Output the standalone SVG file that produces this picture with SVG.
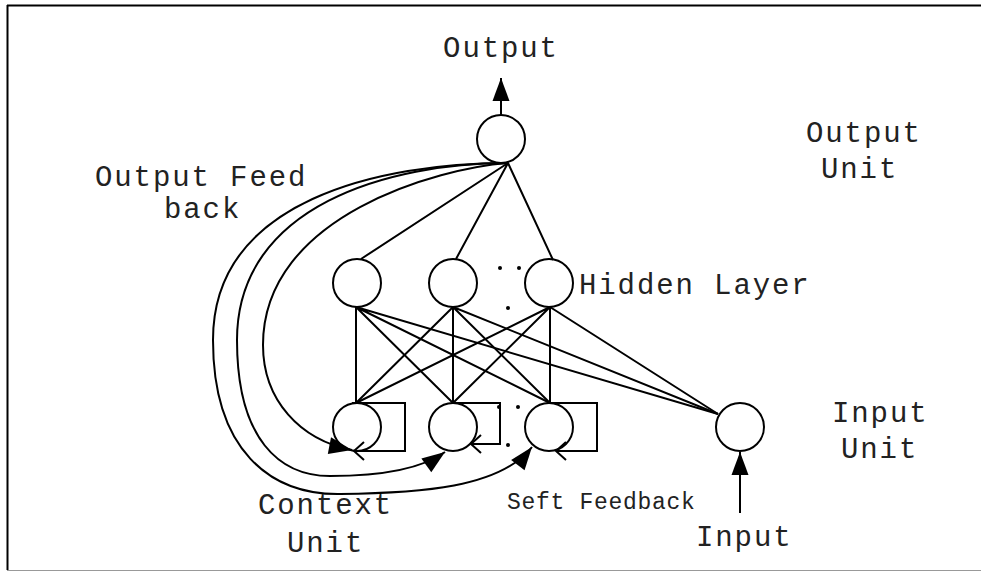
<svg xmlns="http://www.w3.org/2000/svg" width="981" height="572" viewBox="0 0 981 572">
<style>
.node{fill:none;stroke:#000;stroke-width:2}
.edge{fill:none;stroke:#000;stroke-width:2}
.dot{fill:#000}
.lbl{font-family:"Liberation Mono","DejaVu Sans Mono",monospace;font-size:29px;letter-spacing:1.9px;fill:#222}
.sm{font-size:23px;letter-spacing:0.7px}
</style>
<defs>
<marker id="fa" markerUnits="userSpaceOnUse" markerWidth="30" markerHeight="24" viewBox="-26 -12 30 24" refX="0" refY="0" orient="auto">
<path d="M0,0 L-23,-8.5 L-23,8.5 Z" fill="#000"/>
</marker>
<marker id="oa" markerUnits="userSpaceOnUse" markerWidth="30" markerHeight="30" viewBox="-15 -15 30 30" refX="0" refY="0" orient="auto">
<path d="M-10,-9 L0,0 L-10,9" fill="none" stroke="#000" stroke-width="2"/>
</marker>
</defs>
<rect width="981" height="572" fill="#fff"/>
<g id="frame">
<path d="M7,5.5 H981" stroke="#000" stroke-width="2" fill="none"/>
<path d="M7.5,5 V570" stroke="#000" stroke-width="2" fill="none"/>
<path d="M7,570.5 H981" stroke="#999" stroke-width="1" fill="none"/>
</g>
<g id="output-node"><circle class="node" cx="501" cy="139" r="24"/></g>
<g id="hidden-1"><circle class="node" cx="357" cy="283" r="24"/></g>
<g id="hidden-2"><circle class="node" cx="453" cy="283" r="24"/></g>
<g id="hidden-3"><circle class="node" cx="549" cy="283" r="24"/></g>
<g id="context-1"><circle class="node" cx="357" cy="427" r="24"/></g>
<g id="context-2"><circle class="node" cx="453" cy="427" r="24"/></g>
<g id="context-3"><circle class="node" cx="549" cy="427" r="24"/></g>
<g id="input-node"><circle class="node" cx="740" cy="427" r="24"/></g>
<g id="connectors">
<path class="edge" d="M501,115 V78" marker-end="url(#fa)"/>
<path class="edge" d="M740,513 V452" marker-end="url(#fa)"/>
<path class="edge" d="M508,163 L361,259 M508,163 L456,259 M508,163 L553,260"/>
<path class="edge" d="M356,307 L356,403 M356,307 L453,403 M356,307 L550,403 M356,307 L718,414"/>
<path class="edge" d="M453,307 L356,403 M453,307 L453,403 M453,307 L550,403 M453,307 L718,414"/>
<path class="edge" d="M550,307 L356,403 M550,307 L453,403 M550,307 L550,403 M550,307 L718,414"/>
<path class="edge" d="M352,403 H405 V451 H354" marker-end="url(#oa)"/>
<path class="edge" d="M453,403 H500 V444 H471" marker-end="url(#oa)"/>
<path class="edge" d="M550,403 H597 V451 H556" marker-end="url(#oa)"/>
<path class="edge" d="M508,163 C440,168 263,215 263,345 C263,400 300,440 352,450" marker-end="url(#fa)"/>
<path class="edge" d="M508,163 C390,163 237,205 237,340 C237,440 280,476 330,476 C380,476 420,470 445,452" marker-end="url(#fa)"/>
<path class="edge" d="M508,163 C380,163 213,200 213,340 C213,450 270,495 340,494 C420,493 500,488 532,447" marker-end="url(#fa)"/>
</g>
<g id="ellipsis">
<circle class="dot" cx="500" cy="268" r="2"/>
<circle class="dot" cx="519" cy="268" r="2"/>
<circle class="dot" cx="508" cy="308" r="2"/>
<circle class="dot" cx="499" cy="407" r="2"/>
<circle class="dot" cx="518" cy="407" r="2"/>
<circle class="dot" cx="508" cy="445" r="2"/>
</g>
<g id="labels">
<text class="lbl" x="501" y="57" text-anchor="middle">Output</text>
<text class="lbl" x="95" y="186">Output Feed</text>
<text class="lbl" x="164" y="218">back</text>
<text class="lbl" x="806" y="142">Output</text>
<text class="lbl" x="821" y="178">Unit</text>
<text class="lbl" x="579" y="294">Hidden Layer</text>
<text class="lbl" x="832" y="422">Input</text>
<text class="lbl" x="841" y="458">Unit</text>
<text class="lbl" x="258" y="514">Context</text>
<text class="lbl" x="287" y="552">Unit</text>
<text class="lbl sm" x="507" y="509">Seft Feedback</text>
<text class="lbl" x="696" y="546">Input</text>
</g>
</svg>
